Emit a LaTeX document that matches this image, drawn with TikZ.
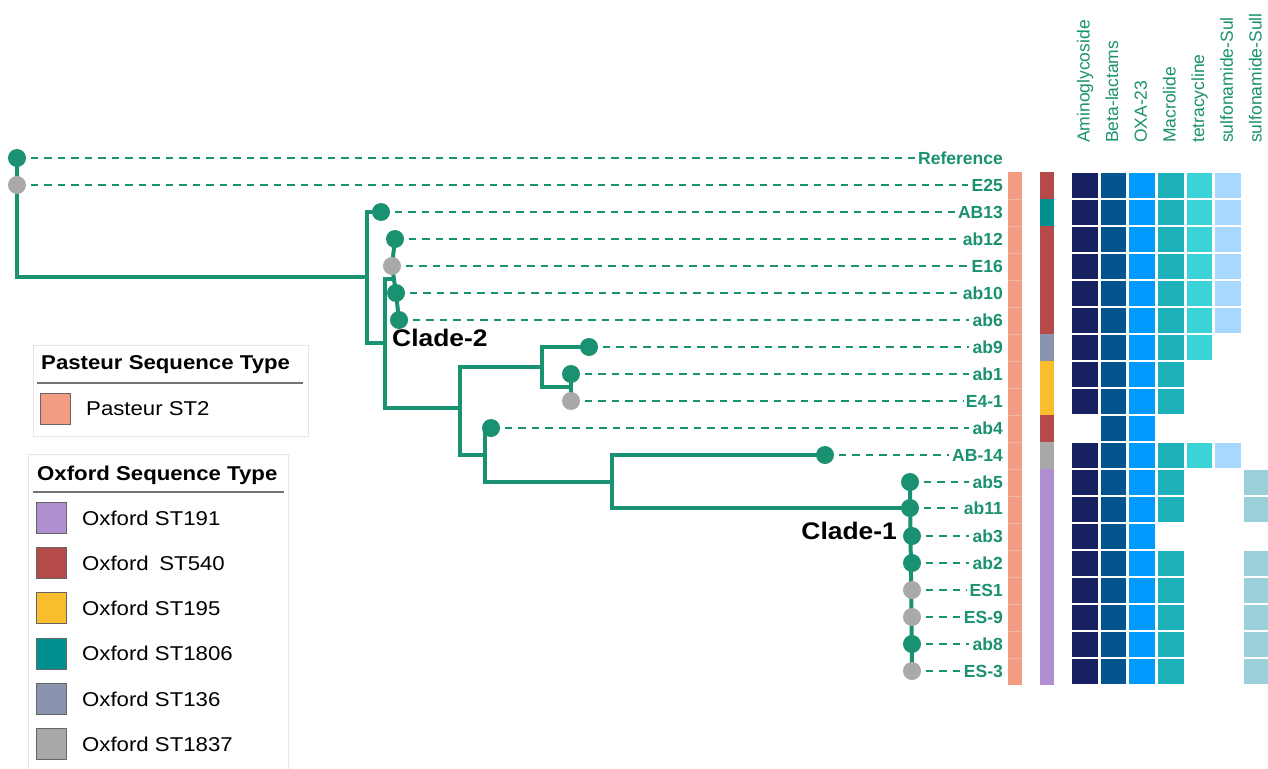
\documentclass[tikz,border=0pt]{standalone}
\usepackage{fontspec}
\setmainfont{Liberation Sans}
\definecolor{tgreen}{HTML}{1A9170}
\definecolor{dgray}{HTML}{A9A9A9}
\definecolor{past}{HTML}{F49C83}
\definecolor{st191}{HTML}{AF8FD0}
\definecolor{st540}{HTML}{B44B48}
\definecolor{st195}{HTML}{F8BE2C}
\definecolor{st1806}{HTML}{009090}
\definecolor{st136}{HTML}{8A94AE}
\definecolor{st1837}{HTML}{A8A8A8}
\definecolor{hm1}{HTML}{172060}
\definecolor{hm2}{HTML}{02558F}
\definecolor{hm3}{HTML}{0099FE}
\definecolor{hm4}{HTML}{1DB2BA}
\definecolor{hm5}{HTML}{3AD4D8}
\definecolor{hm6}{HTML}{A9D8FE}
\definecolor{hm7}{HTML}{9BD0DB}
\newcommand\leaffnt{\fontsize{17.5}{20}\selectfont\bfseries}
\newcommand\hdrfnt{\fontsize{17.5}{20}\selectfont}
\newcommand\lgfnt{\fontsize{20}{24}\selectfont}
\newcommand\lgfntb{\fontsize{20}{24}\selectfont\bfseries}
\newcommand\cladefnt{\fontsize{24}{28}\selectfont\bfseries}
\pgfdeclarelayer{back}
\pgfdeclarelayer{bg}
\pgfsetlayers{back,bg,main}
\begin{document}
\begin{tikzpicture}[x=1pt,y=-1pt,
  tree/.style={line width=4pt, tgreen, line cap=rect, line join=miter},
  dsh/.style={line width=2.3pt, tgreen, dash pattern=on 7.5pt off 6pt, shorten >=3pt},
  gdot/.style={circle, fill=tgreen, minimum size=18pt, inner sep=0pt},
  ydot/.style={circle, fill=dgray, minimum size=18pt, inner sep=0pt},
  leaf/.style={anchor=base east, inner sep=0pt, font=\leaffnt, text=tgreen},
  hdr/.style={rotate=90, anchor=base west, inner sep=0pt, font=\hdrfnt, text=tgreen},
  lgbox/.style={draw=black!10, line width=1pt},
  lgline/.style={draw=black!55, line width=1.2pt},
  swatch/.style={draw=black!60, line width=0.8pt},
  lgtitle/.style={anchor=base west, inner sep=0pt, font=\lgfntb},
  lgitem/.style={anchor=base west, inner sep=0pt, font=\lgfnt},
  clade/.style={inner sep=0pt, font=\cladefnt}
]
\clip (0,0) rectangle (1268,768);
\begin{pgfonlayer}{back}
  \fill[white] (0,0) rectangle (1268,768);
\end{pgfonlayer}

% leaves: dots and labels
\foreach \n/\t/\x/\y/\s in {
  Ref/Reference/17/158/gdot, E25/E25/17/185/ydot, AB13/AB13/381/212/gdot,
  abxii/ab12/395/239/gdot, E16/E16/392/266/ydot, abx/ab10/396/293/gdot,
  abvi/ab6/399/320/gdot, abix/ab9/589/347/gdot, abi/ab1/571/374/gdot,
  Eiv/E4-1/571/401/ydot, abiv/ab4/491/428/gdot, ABxiv/AB-14/825/455/gdot,
  abv/ab5/910/482/gdot, abxi/ab11/910/508/gdot, abiii/ab3/912/536/gdot,
  abii/ab2/912/563/gdot, ESi/ES1/912/590/ydot, ESix/ES-9/912/617/ydot,
  abviii/ab8/912/644/gdot, ESiii/ES-3/912/671/ydot}
{
  \node[\s] (d\n) at (\x,\y) {};
  \node[leaf] (l\n) at (1003,\y+6.3) {\t};
}

% internal coordinates
\coordinate (r0) at (17,277);
\coordinate (n1t) at (367,212);
\coordinate (n1m) at (367,277);
\coordinate (n1b) at (367,343);
\coordinate (n2t) at (385,279);
\coordinate (n2m) at (385,343);
\coordinate (n2b) at (385,408);
\coordinate (g0) at (393,279);
\coordinate (n3t) at (460,367);
\coordinate (n3m) at (460,408);
\coordinate (n3b) at (460,455);
\coordinate (n4t) at (542,347);
\coordinate (n4m) at (542,367);
\coordinate (n4b) at (542,387);
\coordinate (n4r) at (571,387);
\coordinate (n5t) at (485,428);
\coordinate (n5m) at (485,455);
\coordinate (n5b) at (485,482);
\coordinate (n6t) at (612,455);
\coordinate (n6m) at (612,482);
\coordinate (n6b) at (612,508);

\begin{pgfonlayer}{bg}
  \draw[tree] (dRef.center) -- (r0) -- (n1m);
  \draw[tree] (dAB13.center) -- (n1t) -- (n1b) -- (n2m);
  \draw[tree] (g0) -- (n2t) -- (n2b) -- (n3m);
  \draw[tree] (dabxii.center) -- (dE16.center) -- (dabx.center) -- (dabvi.center);
  \draw[tree] (n4m) -- (n3t) -- (n3b) -- (n5m);
  \draw[tree] (dabix.center) -- (n4t) -- (n4b) -- (n4r);
  \draw[tree] (dabi.center) -- (dEiv.center);
  \draw[tree] (dabiv.center) -- (n5t) -- (n5b) -- (n6m);
  \draw[tree] (dABxiv.center) -- (n6t) -- (n6b) -- (dabxi.center);
  \draw[tree] (dabv.center) -- (dESiii.center);
  \foreach \n in {Ref,E25,AB13,abxii,E16,abx,abvi,abix,abi,Eiv,abiv,ABxiv,abv,abxi,abiii,abii,ESi,ESix,abviii,ESiii}
    \draw[dsh] (d\n.center) -- (d\n.center -| l\n.west);
\end{pgfonlayer}

% clade labels
\node[clade, anchor=base west] (c2) at (392,346) {\scalebox{1.1}[1]{Clade-2}};
\node[clade, anchor=base east] (c1) at (897,539) {\scalebox{1.1}[1]{Clade-1}};

% Pasteur strip
\fill[past] (1008,172) rectangle (1022,685);
\foreach \r in {1,...,18}
  \draw[white, opacity=0.25, line width=0.6pt] (1008,{172+\r*27}) -- +(14,0);

% Oxford strip
\foreach \r/\cl in {1/st540,2/st1806,3/st540,4/st540,5/st540,6/st540,7/st136,8/st195,9/st195,10/st540,11/st1837,12/st191,13/st191,14/st191,15/st191,16/st191,17/st191,18/st191,19/st191}
  \fill[\cl] (1040,{172+(\r-1)*27}) rectangle +(13.5,27);

% heatmap
\foreach \r/\cs in {1/{1,2,3,4,5,6},2/{1,2,3,4,5,6},3/{1,2,3,4,5,6},4/{1,2,3,4,5,6},5/{1,2,3,4,5,6},6/{1,2,3,4,5,6},7/{1,2,3,4,5},8/{1,2,3,4},9/{1,2,3,4},10/{2,3},11/{1,2,3,4,5,6},12/{1,2,3,4,7},13/{1,2,3,4,7},14/{1,2,3},15/{1,2,3,4,7},16/{1,2,3,4,7},17/{1,2,3,4,7},18/{1,2,3,4,7},19/{1,2,3,4,7}}
  \foreach \c in \cs
    \fill[hm\c] ({1072+(\c-1)*28.67},{172.5+(\r-1)*27}) rectangle +(25.7,25.5);

% headers
\foreach \j/\t in {0/Aminoglycoside,1/Beta-lactams,2/OXA-23,3/Macrolide,4/tetracycline,5/sulfonamide-Sul,6/sulfonamide-Sull}
  \node[hdr] (h\j) at ({1089.5+\j*28.67},143) {\t};

% Pasteur legend
\draw[lgbox] (33,345) rectangle (308,436);
\node[lgtitle] (pt) at (41,369) {\scalebox{1.11}[1]{Pasteur Sequence Type}};
\draw[lgline] (37,383) -- (303,383);
\draw[swatch, fill=past] (40,393) rectangle (70,424);
\node[lgitem] (p1) at (86,415) {\scalebox{1.11}[1]{Pasteur ST2}};

% Oxford legend
\draw[lgbox] (28,454) rectangle (288,800);
\node[lgtitle] (ot) at (37,480) {\scalebox{1.11}[1]{Oxford Sequence Type}};
\draw[lgline] (33,492) -- (284,492);
\foreach \i/\cl/\t in {0/st191/{Oxford ST191},1/st540/{Oxford\hspace{4pt} ST540},2/st195/{Oxford ST195},3/st1806/{Oxford ST1806},4/st136/{Oxford ST136},5/st1837/{Oxford ST1837}}
{
  \draw[swatch, fill=\cl] (36,{502+\i*45.3}) rectangle +(30,31);
  \node[lgitem] (o\i) at (82,{525+\i*45.3}) {\scalebox{1.11}[1]{\t}};
}
\end{tikzpicture}
\end{document}
